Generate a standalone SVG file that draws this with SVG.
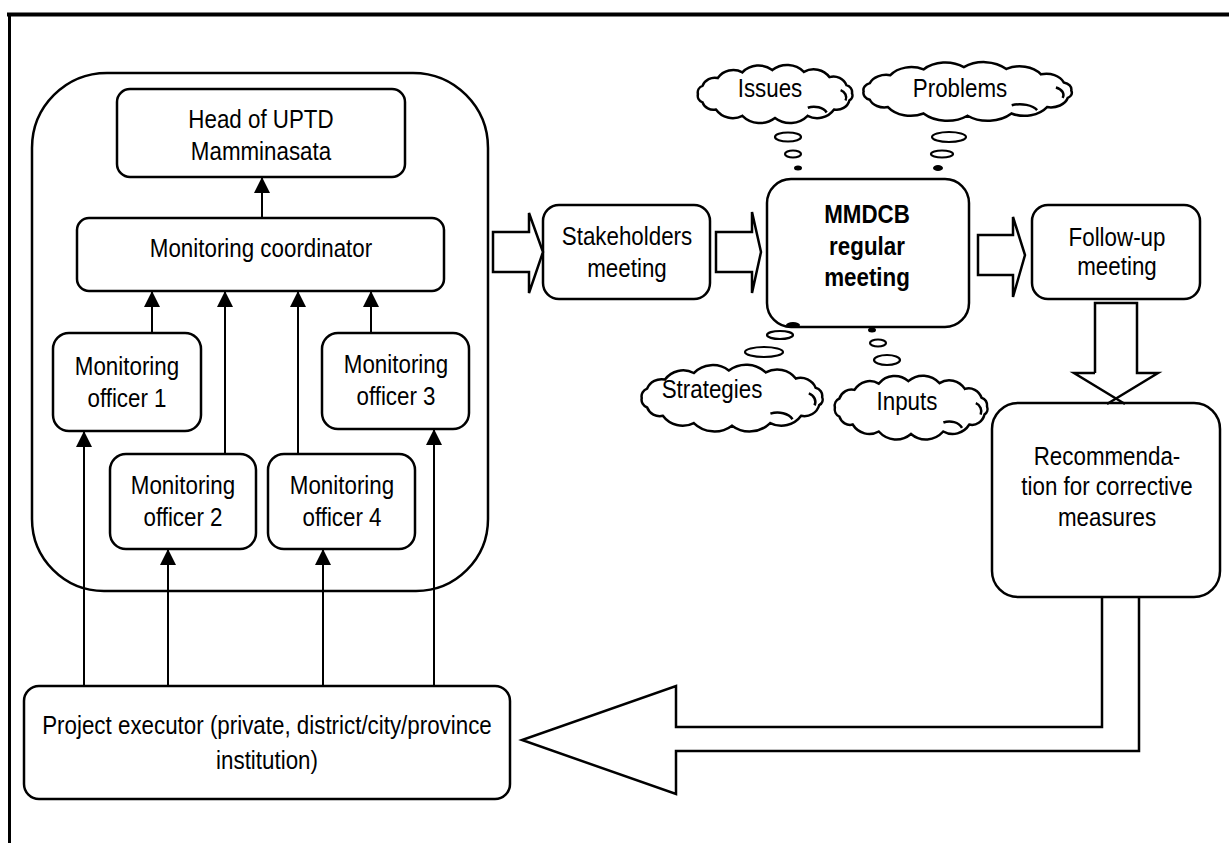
<svg xmlns="http://www.w3.org/2000/svg" xmlns:xlink="http://www.w3.org/1999/xlink" width="1229" height="843" viewBox="0 0 1229 843">
  <style>
    .box { fill:#fff; stroke:#000; stroke-width:2.5; }
    .ln { fill:none; stroke:#000; stroke-width:2; }
    .blk { fill:#fff; stroke:#000; stroke-width:2.5; stroke-linejoin:miter; }
    .cl { fill:#fff; stroke:#000; stroke-width:2.5; vector-effect:non-scaling-stroke; }
    .curl { fill:none; stroke:#000; stroke-width:2.5; vector-effect:non-scaling-stroke; }
    .bub { fill:#fff; stroke:#000; stroke-width:2.2; }
    .dot { fill:#000; }
    .t { font-family:"Liberation Sans", Arial, sans-serif; font-size:26px; text-anchor:middle; fill:#000; }
    .b { font-weight:bold; }
  </style>
  <defs>
    <marker id="ah" viewBox="0 0 16 16" refX="16" refY="8" markerWidth="16" markerHeight="16" markerUnits="userSpaceOnUse" orient="auto">
      <path d="M0,0 L16,8 L0,16 z" fill="#000"/>
    </marker>
    <!-- scalloped cloud outline, about 200 x 74 -->
    <path id="cloud" class="cl" d="M6,37 A9,9 0 0 1 11.6,26.7 A16,16 0 0 1 30.2,16.9 A23,23 0 0 1 60.2,9.8 A27,27 0 0 1 96.7,7 A29,29 0 0 1 135.2,9.2 A24,24 0 0 1 166.5,15.8 A17,17 0 0 1 187.1,25.8 A9,9 0 0 1 193.9,36 A7,7 0 0 1 190.8,44.8 A16,16 0 0 1 172,56.3 A25,25 0 0 1 139.8,64.2 A30,30 0 0 1 100,67 A30,30 0 0 1 60.2,64.2 A25,25 0 0 1 28,56.3 A14,14 0 0 1 11.6,47.3 A9,9 0 0 1 6,37 Z"/>
    <path id="curl" class="curl" d="M140,54 A17,12 0 0 1 163,60 M180,32 A11,10 0 0 1 186,45"/>
  </defs>

  <!-- page frame -->
  <g id="frame">
    <line x1="7" y1="14.5" x2="1229" y2="14.5" stroke="#000" stroke-width="4"/>
    <line x1="9.5" y1="13" x2="9.5" y2="843" stroke="#000" stroke-width="3"/>
  </g>

  <!-- monitoring organisation container -->
  <g id="monitoring-team">
    <path class="box" d="M107,73 H413 A75,75 0 0 1 488,148 V519 A72,72 0 0 1 416,591 H104 A72,72 0 0 1 32,519 V148 A75,75 0 0 1 107,73 Z"/>
  </g>

  <g id="head-uptd">
    <rect class="box" x="117" y="89" width="288" height="88" rx="13"/>
    <text class="t" transform="translate(261,128) scale(.86,1)">Head of UPTD</text>
    <text class="t" transform="translate(261,160) scale(.86,1)">Mamminasata</text>
  </g>

  <g id="coordinator">
    <rect class="box" x="77" y="218" width="367" height="73" rx="12"/>
    <text class="t" transform="translate(261,257) scale(.86,1)">Monitoring coordinator</text>
  </g>

  <g id="officer-1">
    <rect class="box" x="53" y="333" width="148" height="98" rx="16"/>
    <text class="t" transform="translate(127,375) scale(.86,1)">Monitoring</text>
    <text class="t" transform="translate(127,407) scale(.86,1)">officer 1</text>
  </g>

  <g id="officer-3">
    <rect class="box" x="322" y="333" width="147" height="96" rx="16"/>
    <text class="t" transform="translate(396,373) scale(.86,1)">Monitoring</text>
    <text class="t" transform="translate(396,405) scale(.86,1)">officer 3</text>
  </g>

  <g id="officer-2">
    <rect class="box" x="110" y="454" width="146" height="95" rx="16"/>
    <text class="t" transform="translate(183,494) scale(.86,1)">Monitoring</text>
    <text class="t" transform="translate(183,526) scale(.86,1)">officer 2</text>
  </g>

  <g id="officer-4">
    <rect class="box" x="268" y="454" width="147" height="95" rx="16"/>
    <text class="t" transform="translate(342,494) scale(.86,1)">Monitoring</text>
    <text class="t" transform="translate(342,526) scale(.86,1)">officer 4</text>
  </g>

  <g id="project-executor">
    <rect class="box" x="24" y="686" width="486" height="113" rx="15"/>
    <text class="t" transform="translate(267,734) scale(.86,1)">Project executor (private, district/city/province</text>
    <text class="t" transform="translate(267,769) scale(.86,1)">institution)</text>
  </g>

  <g id="stakeholders-meeting">
    <rect class="box" x="543" y="205" width="167" height="94" rx="16"/>
    <text class="t" transform="translate(627,245) scale(.86,1)">Stakeholders</text>
    <text class="t" transform="translate(627,277) scale(.86,1)">meeting</text>
  </g>

  <g id="mmdcb-meeting">
    <rect class="box" x="767" y="179" width="202" height="148" rx="24"/>
    <text class="t b" transform="translate(867,223) scale(.86,1)">MMDCB</text>
    <text class="t b" transform="translate(867,255) scale(.86,1)">regular</text>
    <text class="t b" transform="translate(867,286) scale(.86,1)">meeting</text>
  </g>

  <g id="follow-up-meeting">
    <rect class="box" x="1032" y="205" width="168" height="94" rx="16"/>
    <text class="t" transform="translate(1117,246) scale(.86,1)">Follow-up</text>
    <text class="t" transform="translate(1117,275) scale(.86,1)">meeting</text>
  </g>

  <g id="recommendation">
    <rect class="box" x="992" y="403" width="228" height="194" rx="26"/>
    <text class="t" transform="translate(1107,465) scale(.86,1)">Recommenda-</text>
    <text class="t" transform="translate(1107,495) scale(.86,1)">tion for corrective</text>
    <text class="t" transform="translate(1107,526) scale(.86,1)">measures</text>
  </g>

  <!-- thought clouds round the regular meeting -->
  <g id="cloud-issues">
    <use xlink:href="#cloud" transform="translate(693,64.5) scale(0.82,0.8)"/>
    <use xlink:href="#curl" transform="translate(693,64.5) scale(0.82,0.8)"/>
    <ellipse class="bub" cx="788" cy="137" rx="13" ry="4.5"/>
    <ellipse class="bub" cx="793" cy="154" rx="8" ry="3.5"/>
    <ellipse class="dot" cx="798" cy="168" rx="4" ry="2.5"/>
    <text class="t" transform="translate(770,97) scale(.86,1)">Issues</text>
  </g>

  <g id="cloud-problems">
    <use xlink:href="#cloud" transform="translate(857,61.5) scale(1.105,0.81)"/>
    <use xlink:href="#curl" transform="translate(857,61.5) scale(1.105,0.81)"/>
    <ellipse class="bub" cx="949" cy="137" rx="17" ry="5"/>
    <ellipse class="bub" cx="942" cy="154" rx="11" ry="3.5"/>
    <ellipse class="dot" cx="938" cy="168" rx="5" ry="3"/>
    <text class="t" transform="translate(960,97) scale(.86,1)">Problems</text>
  </g>

  <g id="cloud-strategies">
    <use xlink:href="#cloud" transform="translate(636,364) scale(0.96,0.92)"/>
    <use xlink:href="#curl" transform="translate(636,364) scale(0.96,0.92)"/>
    <ellipse class="dot" cx="793" cy="325" rx="7" ry="3"/>
    <ellipse class="bub" cx="780" cy="335" rx="13" ry="4"/>
    <ellipse class="bub" cx="764" cy="352" rx="19" ry="5"/>
    <text class="t" transform="translate(712,398) scale(.86,1)">Strategies</text>
  </g>

  <g id="cloud-inputs">
    <use xlink:href="#cloud" transform="translate(830,375) scale(0.81,0.88)"/>
    <use xlink:href="#curl" transform="translate(830,375) scale(0.81,0.88)"/>
    <ellipse class="dot" cx="872" cy="330" rx="4" ry="2.5"/>
    <ellipse class="bub" cx="878" cy="343" rx="8" ry="3.5"/>
    <ellipse class="bub" cx="887" cy="360" rx="13" ry="5"/>
    <text class="t" transform="translate(907,410) scale(.86,1)">Inputs</text>
  </g>

  <!-- connectors -->
  <g id="connectors">
    <path class="ln" marker-end="url(#ah)" d="M262,218 V177"/>
    <path class="ln" marker-end="url(#ah)" d="M152,333 V291"/>
    <path class="ln" marker-end="url(#ah)" d="M225,454 V291"/>
    <path class="ln" marker-end="url(#ah)" d="M298,454 V291"/>
    <path class="ln" marker-end="url(#ah)" d="M371,333 V291"/>
    <path class="ln" marker-end="url(#ah)" d="M84,686 V431"/>
    <path class="ln" marker-end="url(#ah)" d="M168,686 V549"/>
    <path class="ln" marker-end="url(#ah)" d="M323,686 V549"/>
    <path class="ln" marker-end="url(#ah)" d="M434,686 V429"/>

    <!-- block arrows along the meeting chain -->
    <path class="blk" d="M493,232 H529 V213 L543,252 L529,293 V272 H493 Z"/>
    <path class="blk" d="M716,232 H752 V212 L761,252 L752,293 V272 H716 Z"/>
    <path class="blk" d="M978,235 H1013 V217 L1025,255 L1013,297 V275 H978 Z"/>
    <path class="blk" style="fill:none" d="M1095,373 V303 H1137 V373 H1158 L1107,404 M1095,373 H1074 L1125,404"/>
    <path class="blk" style="fill:none" d="M1102,597 V727 H676 V686 L522,740 L676,794 V751 H1139 V597"/>
  </g>
</svg>
